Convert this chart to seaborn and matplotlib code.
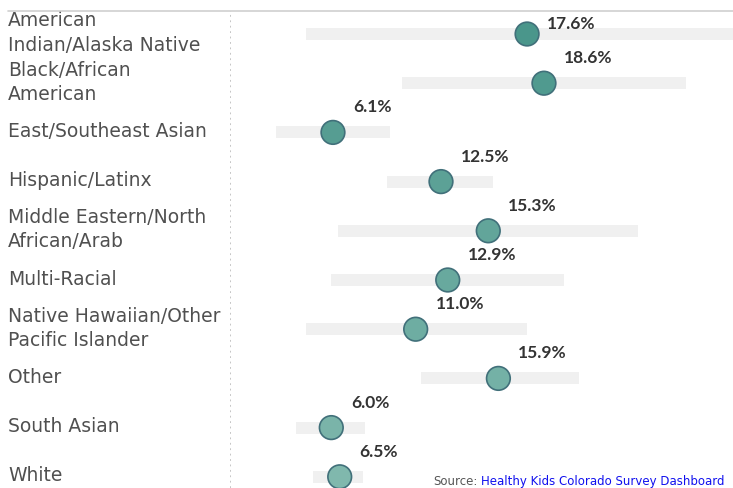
import matplotlib
matplotlib.use("Agg")
import matplotlib.pyplot as plt
import matplotlib.transforms as mtransforms
from matplotlib.lines import Line2D
import seaborn as sns
import pandas as pd

categories = [
    "American\nIndian/Alaska Native",
    "Black/African\nAmerican",
    "East/Southeast Asian",
    "Hispanic/Latinx",
    "Middle Eastern/North\nAfrican/Arab",
    "Multi-Racial",
    "Native Hawaiian/Other\nPacific Islander",
    "Other",
    "South Asian",
    "White",
]
values = [17.6, 18.6, 6.1, 12.5, 15.3, 12.9, 11.0, 15.9, 6.0, 6.5]
ci_low = [4.5, 10.2, 2.7, 9.3, 6.4, 6.0, 4.5, 11.3, 3.9, 4.9]
ci_high = [31.0, 27.0, 9.5, 15.6, 24.2, 19.8, 17.6, 20.7, 8.0, 7.9]
value_labels = ["17.6%", "18.6%", "6.1%", "12.5%", "15.3%", "12.9%", "11.0%", "15.9%", "6.0%", "6.5%"]

df = pd.DataFrame({"category": categories, "value": values,
                   "lo": ci_low, "hi": ci_high, "row": range(len(categories))})

sns.set_theme(style="white")
W, H = 733, 489
dpi = 100
fig = plt.figure(figsize=(W / dpi, H / dpi), dpi=dpi)

# axes geometry in pixels
x0_px, top_px, row0_px, rowstep = 230, 12, 35, 49.2
px_per_unit = 16.88
ax = fig.add_axes([x0_px / W, 0, (W - x0_px) / W, (H - top_px) / H])
xmax = (W - x0_px) / px_per_unit
ax.set_xlim(0, xmax)
ylim_top = -(row0_px - top_px) / rowstep
ylim_bot = 9 + (H - (row0_px + 9 * rowstep)) / rowstep
ax.set_ylim(ylim_bot, ylim_top)

# CI bands
ax.barh(df["row"], df["hi"] - df["lo"], left=df["lo"], height=12 / rowstep,
        color="#f0f0f0", edgecolor="none", zorder=1)

palette = sns.blend_palette(["#4a968b", "#80b8ad"], n_colors=len(categories))
sns.scatterplot(data=df, x="value", y="row", hue="category", palette=palette,
                s=290, edgecolor="#41707a", linewidth=1.2, legend=False,
                ax=ax, zorder=3)

# value labels
for i, (v, lab) in enumerate(zip(values, value_labels)):
    dy = -11 if i == 0 else -26
    ax.annotate(lab, (v, i), xytext=(20, -dy), textcoords="offset pixels",
                ha="left", va="center", fontsize=12.5, fontweight="bold",
                family=["Lato", "DejaVu Sans"], color="#333333", zorder=4)

# category labels
trans = mtransforms.blended_transform_factory(fig.transFigure, ax.transData)
for i, c in enumerate(categories):
    ax.text(8 / W, i - 0.04, c, transform=trans, ha="left", va="center",
            fontsize=13.5, color="#505050", linespacing=1.34, clip_on=False)

ax.axvline(0, color="#c0c0c0", linestyle=(0, (1, 2)), linewidth=1.3, zorder=0)
fig.add_artist(Line2D([8 / W, 1], [1 - top_px / H, 1 - top_px / H],
                      transform=fig.transFigure, color="#d0d0d0", linewidth=1.2))

ax.set_xlabel("")
ax.set_ylabel("")
ax.set_xticks([])
ax.set_yticks([])
for sp in ax.spines.values():
    sp.set_visible(False)

fig.text(433 / W, 1 - 485 / H, "Source:", fontsize=8.5, color="#555555", va="baseline")
fig.text(481 / W, 1 - 485 / H, "Healthy Kids Colorado Survey Dashboard",
         fontsize=8.5, color="#1010ee", va="baseline")

fig.savefig("out.png", dpi=dpi)
